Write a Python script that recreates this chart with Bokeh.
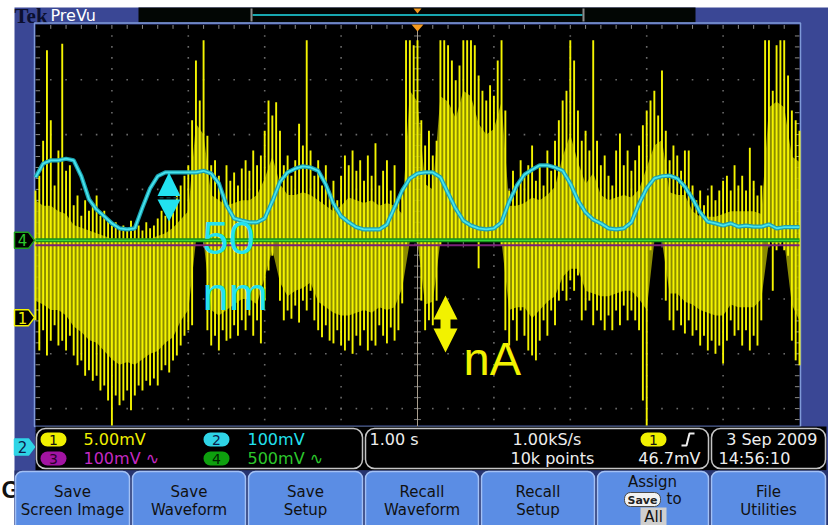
import numpy as np
from bokeh.plotting import figure
from bokeh.models import Range1d
from bokeh.core.properties import value
from bokeh.embed import file_html
from bokeh.resources import INLINE

W, H = 828, 525

# ---------------- acquisition data (screen divisions, 1.00 s/div) ----------------
# channel 1 (yellow, 5.00 mV/div): spike tips above / below, every 50 ms
t_ch1 = np.round(np.arange(201) * 0.05, 2)
ch1_hi = [
    0.98, 1.25, 1.89, 3.54, 2.26, 1.07, 1.71, 3.66, 1.34, 1.44,
    0.71, 0.89, 0.52, 0.80, 0.61, 0.71, 0.89, 0.52, 0.61, 0.43,
    0.34, 0.40, 0.29, 0.34, 0.25, 0.43, 0.29, 0.34, 0.25, 0.40,
    0.29, 0.34, 0.47, 0.61, 0.52, 0.71, 0.58, 0.98, 1.07, 1.25,
    1.44, 2.26, 3.35, 2.62, 3.72, 1.98, 1.44, 1.53, 1.25, 0.89,
    1.44, 1.16, 1.31, 1.07, 1.38, 1.53, 1.34, 1.71, 1.44, 1.62,
    2.07, 2.62, 2.35, 2.59, 2.07, 1.44, 1.62, 1.25, 1.53, 2.20,
    1.80, 3.72, 1.71, 1.25, 1.53, 1.07, 1.44, 0.89, 1.16, 0.80,
    1.25, 1.62, 1.44, 1.71, 1.34, 1.53, 1.16, 1.62, 1.25, 1.84,
    1.07, 1.34, 1.53, 0.98, 1.44, 0.80, 0.93, 3.72, 3.72, 3.63,
    3.72, 2.26, 1.80, 2.07, 1.62, 1.89, 3.72, 3.72, 3.63, 3.35,
    2.99, 3.26, 3.72, 3.72, 3.72, 3.63, 3.08, 2.80, 2.62, 2.90,
    2.71, 3.35, 3.72, 2.44, 0.98, 1.34, 1.07, 1.53, 1.25, 1.44,
    1.80, 1.16, 1.44, 1.07, 1.71, 1.34, 1.89, 2.26, 2.62, 2.80,
    3.72, 3.35, 2.44, 1.89, 2.07, 1.71, 3.72, 1.89, 1.44, 1.62,
    1.25, 1.07, 1.71, 2.02, 1.44, 1.71, 1.34, 1.53, 1.80, 2.17,
    2.44, 2.62, 2.80, 2.35, 3.17, 2.07, 1.53, 1.80, 1.62, 1.34,
    1.71, 1.71, 1.07, 0.80, 0.98, 0.71, 0.89, 1.07, 0.80, 0.98,
    1.16, 1.25, 0.98, 1.44, 1.07, 1.25, 0.98, 1.76, 1.16, 0.89,
    1.07, 3.72, 3.72, 2.80, 3.63, 3.72, 3.72, 3.08, 2.44, 2.26,
    2.07,
]
ch1_lo = [
    -1.39, -1.94, -1.57, -2.03, -1.76, -1.48, -1.85, -1.76, -1.94, -1.67,
    -2.03, -2.21, -2.12, -2.40, -2.30, -2.49, -2.40, -2.67, -2.58, -2.85,
    -3.31, -2.76, -2.94, -2.85, -2.67, -3.03, -2.76, -2.58, -2.67, -2.49,
    -2.58, -2.45, -2.58, -2.30, -2.21, -2.34, -2.12, -2.03, -1.85, -1.67,
    -1.57, -1.48, 0.05, 0.05, 0.05, -1.57, -1.85, -1.67, -1.94, -1.57,
    -1.76, -1.72, -1.48, -1.67, -1.39, -1.57, -1.30, -1.67, -1.39, -1.81,
    -1.03, -0.48, -0.21, 0.05, -1.03, -1.39, -1.21, -1.36, -1.12, -1.43,
    -1.03, -1.21, -0.85, -1.39, -1.57, -1.70, -1.48, -1.76, -1.81, -1.57,
    -1.85, -1.94, -1.76, -2.00, -1.67, -1.85, -1.57, -1.94, -1.76, -1.85,
    -1.48, -1.67, -1.81, -1.52, -1.76, -1.57, -1.08, -0.02, 0.05, 0.05,
    0.03, -1.03, -1.57, -1.39, -1.48, -1.03, -0.02, 0.05, 0.05, 0.05,
    0.05, 0.05, 0.05, 0.05, 0.05, 0.05, -0.44, 0.05, 0.05, 0.05,
    0.05, 0.05, -0.02, -1.57, -1.85, -1.39, -1.76, -1.21, -1.67, -1.94,
    -2.03, -2.12, -1.76, -1.39, -1.67, -1.21, -1.48, -1.03, -0.85, -1.03,
    -0.66, -0.85, -0.57, -1.39, -1.21, -1.03, -1.48, -1.21, -1.39, -1.57,
    -1.30, -1.57, -1.21, -1.48, -1.12, -1.39, -1.21, -1.39, -1.57, -2.85,
    -3.31, -0.11, 0.05, 0.05, 0.05, -1.03, -1.39, -1.57, -1.21, -1.48,
    -1.63, -1.39, -1.67, -1.57, -1.85, -1.67, -1.94, -1.76, -2.00, -1.85,
    -2.18, -1.76, -1.39, -1.67, -1.57, -1.85, -1.57, -1.94, -1.67, -1.85,
    -1.39, 0.05, -0.02, -0.85, -0.11, -0.02, -0.11, -0.21, -1.76, -2.12,
    -2.21,
]
# channel 1 dense core (where most sweeps overlap), every 100 ms
t_core = np.round(np.arange(101) * 0.1, 1)
core_hi = [
    0.80, 0.70, 0.70, 0.60, 0.55, 0.35, 0.30, 0.25, 0.20, 0.15,
    0.10, 0.10, 0.10, 0.10, 0.10, 0.10, 0.15, 0.20, 0.30, 0.45,
    0.60, 2.20, 2.00, 0.90, 0.80, 0.70, 0.75, 0.80, 0.80, 0.90,
    1.20, 1.60, 1.10, 0.90, 0.90, 0.95, 0.90, 0.80, 0.70, 0.60,
    0.70, 0.85, 0.80, 0.75, 0.80, 0.70, 0.75, 0.70, 0.55, 2.80,
    2.60, 1.10, 1.00, 2.70, 2.60, 2.30, 2.80, 2.70, 2.20, 2.00,
    2.10, 2.60, 0.70, 0.70, 0.75, 0.85, 0.80, 0.90, 1.05, 1.60,
    2.00, 1.50, 1.10, 1.30, 0.90, 0.80, 0.85, 0.90, 0.85, 1.00,
    1.40, 1.80, 1.90, 0.95, 0.90, 0.90, 0.60, 0.50, 0.50, 0.50,
    0.55, 0.60, 0.60, 0.60, 0.60, 0.55, 2.50, 2.60, 2.50, 1.60,
    1.50,
]
core_lo = [
    -1.03, -1.10, -1.20, -1.20, -1.30, -1.50, -1.60, -1.75, -1.80, -1.95,
    -2.10, -2.20, -2.15, -2.20, -2.10, -2.00, -1.95, -1.80, -1.70, -1.40,
    -1.20, 0.05, 0.05, -1.20, -1.30, -1.20, -1.10, -1.00, -1.00, -1.10,
    -0.60, -0.10, -0.70, -0.95, -0.85, -0.80, -0.70, -1.05, -1.15, -1.25,
    -1.30, -1.30, -1.25, -1.20, -1.25, -1.15, -1.20, -1.15, -0.80, 0.05,
    0.05, -1.10, -1.05, 0.05, 0.05, 0.05, 0.05, 0.05, 0.05, 0.05,
    0.05, 0.05, -1.20, -1.15, -1.15, -1.35, -1.20, -1.05, -0.95, -0.60,
    -0.45, -0.45, -0.85, -0.90, -0.95, -0.95, -0.90, -0.85, -0.85, -1.00,
    -1.20, 0.05, 0.05, -0.90, -0.90, -1.05, -1.10, -1.20, -1.25, -1.30,
    -1.30, -1.10, -1.15, -1.15, -1.15, -1.00, 0.05, 0.00, 0.05, -1.10,
    -1.40,
]
# channel 2 (cyan, 100 mV/div), every 100 ms
t_ch2 = np.round(np.arange(101) * 0.1, 1)
ch2 = [
    1.22, 1.47, 1.53, 1.53, 1.56, 1.53, 1.24, 0.82, 0.63, 0.51,
    0.38, 0.29, 0.27, 0.29, 0.67, 1.02, 1.24, 1.31, 1.31, 1.31,
    1.31, 1.31, 1.34, 1.29, 1.11, 0.71, 0.47, 0.43, 0.40, 0.40,
    0.47, 0.78, 1.14, 1.31, 1.38, 1.42, 1.40, 1.34, 1.09, 0.74,
    0.51, 0.40, 0.31, 0.27, 0.27, 0.27, 0.36, 0.67, 0.98, 1.20,
    1.29, 1.31, 1.31, 1.22, 0.93, 0.65, 0.43, 0.34, 0.29, 0.27,
    0.29, 0.40, 0.78, 1.07, 1.27, 1.36, 1.44, 1.44, 1.40, 1.34,
    1.11, 0.80, 0.58, 0.45, 0.38, 0.29, 0.27, 0.29, 0.40, 0.74,
    1.02, 1.20, 1.24, 1.25, 1.20, 1.05, 0.83, 0.58, 0.41, 0.38,
    0.34, 0.38, 0.32, 0.34, 0.32, 0.32, 0.36, 0.29, 0.31, 0.31,
    0.31,
]
# channels 3 and 4 are flat
t_flat = [0.0, 10.0]
ch3_level = [-0.02, -0.02]
ch4_level = [0.07, 0.07]
# channel ground markers (divisions)
marker_ch = ["4", "1", "2"]
marker_lvl = [0.07, -1.34, -3.70]

# ---------------- screen geometry ----------------
X0, PX_T = 35.0, 76.4      # left edge of graticule, pixels per horizontal division
Y0, PX_V = 243.7, 54.8     # centre line, pixels per vertical division

p = figure(width=W, height=H, x_range=Range1d(0, W), y_range=Range1d(H, 0),
           output_backend="svg", toolbar_location=None, min_border=0,
           x_axis_type=None, y_axis_type=None,
           background_fill_color="white", border_fill_color="white",
           outline_line_color=None)
p.extra_x_ranges = {"t": Range1d(-X0 / PX_T, (W - X0) / PX_T)}
p.extra_y_ranges = {"v": Range1d((Y0 - H) / PX_V, Y0 / PX_V)}
TV = dict(x_range_name="t", y_range_name="v")

BLUE = "#3a4795"
YEL = "#f2f200"
CYN = "#22e2f0"
GRN = "#2cc82c"
PUR = "#c42ac4"
WHT = "#eeeeee"


def label(x, y, s, color, size, font="DejaVu Sans", align="left",
          baseline="middle", style="normal", **kw):
    p.text(x=[x], y=[y], text=[s], text_color=color, text_font=value(font),
           text_font_size=value(f"{size}px"), text_align=align,
           text_baseline=baseline, text_font_style=style, **kw)


# stray heading text at the left page edge (mostly hidden by the bezel)
label(1, 489, "G4", "#111111", 24, font="Liberation Sans", style="bold")

# ---------------- instrument frame ----------------
p.quad(left=14, right=W, top=7, bottom=H, fill_color=BLUE, line_color=None)
p.quad(left=138, right=695, top=7, bottom=22, fill_color="#020604", line_color=None)
p.segment(x0=[252], y0=[14.5], x1=[582], y1=[14.5], line_color="#18a8b0", line_width=2)
p.segment(x0=[251, 583], y0=[8, 8], x1=[251, 583], y1=[21, 21], line_color="#8c8c8c", line_width=2)
p.patch([413, 421, 417], [8, 8, 13], fill_color="#f39a1e", line_color=None)
label(14, 15.5, "Tek", "#0b0f2e", 21, font="Liberation Serif", style="bold")
label(50, 15, "PreVu", "white", 16)

# screen
p.quad(left=34, right=800, top=22.5, bottom=426, fill_color=None,
       line_color="#7f9ad8", line_width=1.5)
p.quad(left=35, right=799, top=24, bottom=425, fill_color="black", line_color=None)

# ---------------- graticule ----------------
minor_t = np.round(np.arange(1, 50) * 0.2, 1)
minor_v = np.round(np.arange(-17, 20) * 0.2, 1)
dot_x, dot_y = [], []
for gv in [-3, -2, -1, 1, 2, 3]:
    dot_x += list(minor_t)
    dot_y += [gv] * len(minor_t)
for gt in [1, 2, 3, 4, 6, 7, 8, 9]:
    dot_x += [gt] * len(minor_v)
    dot_y += list(minor_v)
p.scatter(dot_x, dot_y, marker="square", size=1.6, fill_color="#6a6a6a",
          line_color=None, **TV)
# centre-line ticks
p.segment(x0=[4.955] * len(minor_v), y0=minor_v, x1=[5.045] * len(minor_v), y1=minor_v,
          line_color="#7a7a7a", line_width=1, **TV)
p.segment(x0=minor_t, y0=[-0.06] * len(minor_t), x1=minor_t, y1=[0.06] * len(minor_t),
          line_color="#7a7a7a", line_width=1, **TV)
# edge ticks
p.segment(x0=minor_t, y0=[4.0] * len(minor_t), x1=minor_t, y1=[3.93] * len(minor_t),
          line_color="#8a8a8a", line_width=1, **TV)
p.segment(x0=[9.94] * len(minor_v), y0=minor_v, x1=[10.0] * len(minor_v), y1=minor_v,
          line_color="#8a8a8a", line_width=1, **TV)
p.segment(x0=[0.0] * len(minor_v), y0=minor_v, x1=[0.06] * len(minor_v), y1=minor_v,
          line_color="#8a8a8a", line_width=1, **TV)
# trigger position line
p.segment(x0=[5.0], y0=[-3.4], x1=[5.0], y1=[4.0], line_color="#a89e8e", line_width=1, **TV)

# ---------------- waveforms ----------------
p.varea(x=t_core, y1=core_lo, y2=core_hi, fill_color="#a3a300", fill_alpha=0.85, **TV)
p.segment(x0=t_ch1, y0=ch1_lo, x1=t_ch1, y1=ch1_hi, line_color="#f4f400",
          line_width=1.9, **TV)

p.line(t_ch2, ch2, line_color="#1aa2b0", line_width=4.2, **TV)
p.line(t_ch2, ch2, line_color="#48e4ee", line_width=1.8, **TV)

p.line(t_flat, ch3_level, line_color="#7a207a", line_width=2, **TV)
p.line(t_flat, ch4_level, line_color="#16921a", line_width=4, **TV)
p.line(t_flat, ch4_level, line_color="#3cd63c", line_width=1.2, **TV)

# ---------------- scale annotations ----------------
p.patches([[157, 180, 168.5], [157, 180, 168.5]], [[195.5, 195.5, 172], [199, 199, 221]],
          fill_color=CYN, line_color=None)
p.segment(x0=[159], y0=[197.3], x1=[178], y1=[197.3], line_color="#0a3a40",
          line_width=1.5, line_dash="4 3")
label(202, 237, "50", CYN, 47, font="Liberation Sans", baseline="alphabetic")
label(202, 293, "nm", CYN, 47, font="Liberation Sans", baseline="alphabetic")

p.patches([[433, 457, 445], [433, 457, 445]], [[319, 319, 295], [328, 328, 352]],
          fill_color=YEL, line_color=None)
p.quad(left=440, right=450, top=318, bottom=329, fill_color=YEL, line_color=None)
label(463, 358, "nA", YEL, 47, font="Liberation Sans", baseline="alphabetic")

# trigger position marker
p.patch([411, 423, 417], [24, 24, 31], fill_color="#f39a1e", line_color=None)

# ---------------- channel markers ----------------
mk_fill = {"4": "black", "1": "black", "2": "#2fd4e6"}
mk_line = {"4": "#1ea01e", "1": YEL, "2": "#2fd4e6"}
mk_text = {"4": GRN, "1": YEL, "2": "#0b1b4a"}
hh = 8.0 / PX_V
for ch, lv in zip(marker_ch, marker_lvl):
    p.patch([14, 28, 34, 28, 14], [lv + hh, lv + hh, lv, lv - hh, lv - hh],
            fill_color=mk_fill[ch], line_color=mk_line[ch], line_width=1.5,
            y_range_name="v")
    label(22, lv, ch, mk_text[ch], 15, align="center", y_range_name="v")

# ---------------- readout panel ----------------
p.quad(left=35, right=826, top=426, bottom=470, fill_color="black", line_color=None)
for l, r in [(36, 362), (365, 708), (711, 825)]:
    p.quad(left=l, right=r, top=428, bottom=468, fill_color="black",
           line_color="#c4c4c4", line_width=1.5, border_radius=9)


def badge(x, y, s, fill, txt):
    p.quad(left=x - 13, right=x + 13, top=y - 7, bottom=y + 7, fill_color=fill,
           line_color=None, border_radius=7)
    label(x, y + 0.5, s, txt, 14, align="center")


R1, R2 = 439, 458
badge(53, R1, "1", "#f0f000", "#111111")
badge(53, R2, "3", "#a214a2", "#2a002a")
badge(216, R1, "2", "#2fd4e6", "#0b1b4a")
badge(216, R2, "4", "#0ea00e", "#002200")
label(83, R1, "5.00mV", "#f0f000", 16)
label(83, R2, "100mV \u223f", PUR, 16)
label(247, R1, "100mV", CYN, 16)
label(247, R2, "500mV \u223f", GRN, 16)
label(369, R1, "1.00 s", WHT, 16)
label(512, R1, "1.00kS/s", WHT, 16)
label(510, R2, "10k points", WHT, 16)
badge(653, R1, "1", "#f0f000", "#111111")
p.line([681, 686, 689, 694], [445, 445, 433, 433], line_color=WHT, line_width=2)
label(700, R2, "46.7mV", WHT, 16, align="right")
label(822, R1, "3 Sep  2009", WHT, 16, align="right")
label(718, R2, "14:56:10", WHT, 16)

# ---------------- soft buttons ----------------
p.quad(left=14, right=W, top=470, bottom=H, fill_color="#27346f", line_color=None)
btn_edges = [(15, 129), (132, 245), (248, 362), (365, 478), (481, 594), (597, 708), (711, 825)]
btn_text = [("Save", "Screen Image"), ("Save", "Waveform"), ("Save", "Setup"),
            ("Recall", "Waveform"), ("Recall", "Setup"), None, ("File", "Utilities")]
for (l, r), tx in zip(btn_edges, btn_text):
    p.quad(left=l, right=r, top=471, bottom=540, fill_color="#5b8de4",
           line_color="#a3c0f4", line_width=1.5, border_radius=7)
    if tx:
        label((l + r) / 2, 491, tx[0], "#111111", 15, align="center")
        label((l + r) / 2, 509.5, tx[1], "#111111", 15, align="center")
label(652, 481.5, "Assign", "#111111", 15, align="center")
p.quad(left=624, right=660, top=492, bottom=506, fill_color="#f2f2f2",
       line_color="#4a4a4a", line_width=1, border_radius=6)
label(642, 499.5, "Save", "#222222", 11, style="bold", align="center")
label(666, 498.5, "to", "#111111", 15)
p.quad(left=640, right=666, top=507, bottom=526, fill_color="#cfcfcf", line_color=None)
label(653, 516.5, "All", "#111111", 15, align="center")

open("out.html", "w").write(file_html(p, INLINE))
